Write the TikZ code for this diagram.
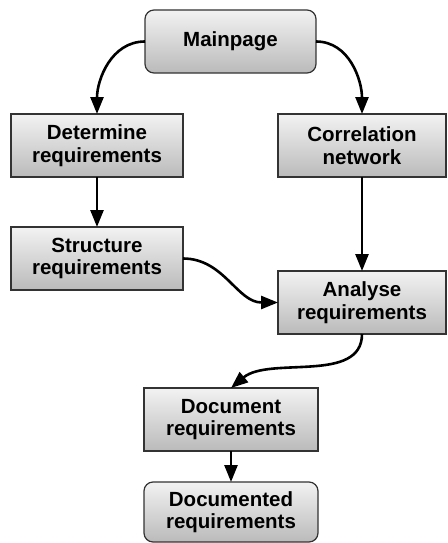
\documentclass[tikz,border=0pt]{standalone}
\usepackage{fontspec}
\setmainfont{Liberation Sans}
\usetikzlibrary{arrows.meta}
\begin{document}
\begin{tikzpicture}[x=1pt,y=-1pt,
  box/.style={draw=black!80,line width=1.2pt,top color=black!5,bottom color=black!27,
    minimum width=172pt,minimum height=63pt,inner sep=0pt,outer sep=0pt,align=center,
    font=\fontsize{20.5}{22.5}\selectfont\bfseries},
  rbox/.style={box,rounded corners=9pt},
  arr/.style={line width=2.6pt,-{Triangle[length=17pt,width=13pt]}}]
\useasboundingbox (0,0) rectangle (447,543);
\node[rbox,minimum width=171pt] (main) at (230.5,41.5) {Mainpage};
\node[box] (det) at (97,145.5) {Determine\\requirements};
\node[box,minimum width=168pt] (cor) at (362,145.5) {Correlation\\network};
\node[box] (str) at (97,258.5) {Structure\\requirements};
\node[box,minimum width=168pt] (ana) at (362,302.5) {Analyse\\requirements};
\node[box,minimum width=174pt] (doc) at (231,419.5) {Document\\requirements};
\node[rbox,minimum width=174pt,minimum height=60pt] (docd) at (231,512) {Documented\\requirements};
\draw[arr] (main.west) to[out=180,in=90] (det.north);
\draw[arr] (main.east) to[out=0,in=90] (cor.north);
\draw[arr] (det) -- (str);
\draw[arr] (cor) -- (ana);
\draw[arr] (str.east) to[out=0,in=180] (ana.west);
\draw[arr] (ana.south) to[out=-90,in=40,looseness=0.9] (doc.north);
\draw[arr] (doc) -- (docd);
\end{tikzpicture}
\end{document}
